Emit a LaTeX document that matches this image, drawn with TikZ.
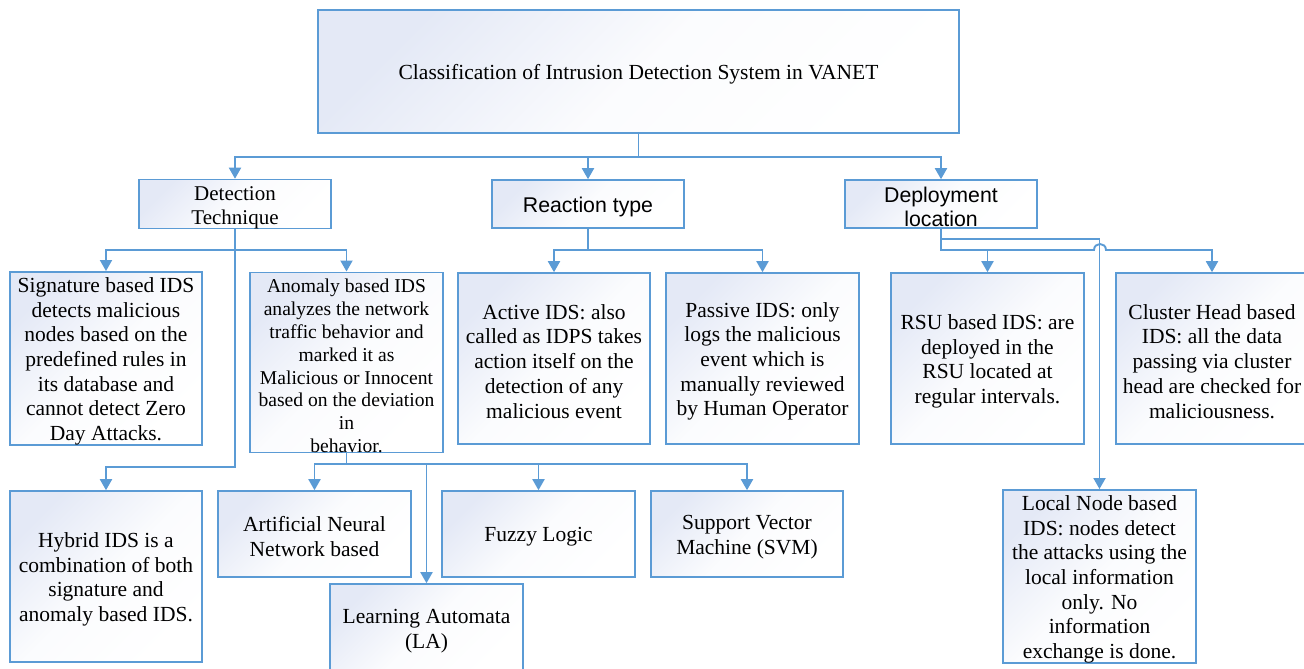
\documentclass[tikz,border=0pt]{standalone}
\usepackage{fontspec}
\setmainfont{Liberation Serif}
\newfontfamily\sansf{Liberation Sans}
\usetikzlibrary{arrows.meta}
\definecolor{lineblue}{RGB}{91,155,213}
\definecolor{boxc}{RGB}{228,233,246}
\newcommand\tstrut{\rule{0pt}{20.5pt}}
\begin{document}
\begin{tikzpicture}[x=1pt,y=-1pt,
  box/.style={draw=lineblue, line width=1.6pt, top color=boxc, bottom color=white, middle color=boxc!15!white,
    shading angle=45, inner sep=0pt, align=center, font=\fontsize{21.5}{24.7}\selectfont},
  conn/.style={draw=lineblue, line width=1.9pt, -{Triangle[length=11pt,width=12pt]}},
  ]
\useasboundingbox (0,0) rectangle (1304,669);
\fill[white] (0,0) rectangle (1304,669);

% level 0
\node[box, minimum width=641pt, minimum height=123pt] (main) at (638.5,71.5)
  {\tstrut Classification of Intrusion Detection System in VANET};

% level 1
\node[box, minimum width=192pt, minimum height=48pt, font=\fontsize{21}{24}\selectfont] (det) at (235,204)
  {\tstrut Detection\\Technique};
\node[box, minimum width=192pt, minimum height=48pt, font=\fontsize{21.3}{24}\selectfont\sansf] (react) at (588,204)
  {\tstrut Reaction type};
\node[box, minimum width=192pt, minimum height=48pt, font=\fontsize{21.3}{24}\selectfont\sansf] (deploy) at (941,204)
  {\tstrut Deployment\\location};

% level 2
\node[box, minimum width=192pt, minimum height=171pt] (sig) at (106,358.5)
  {\tstrut Signature based IDS\\detects malicious\\nodes based on the\\predefined rules in\\its database and\\cannot detect Zero\\Day Attacks.};
\node[box, minimum width=193pt, minimum height=179pt, font=\fontsize{19.6}{22.8}\selectfont] (anom) at (346.5,362.5)
  {\tstrut Anomaly based IDS\\analyzes the network\\traffic behavior and\\marked it as\\Malicious or Innocent\\based on the deviation\\in\\behavior.};
\node[box, minimum width=192pt, minimum height=171pt] (active) at (554,358.5)
  {\tstrut Active IDS: also\\called as IDPS takes\\action itself on the\\detection of any\\malicious event};
\node[box, minimum width=193pt, minimum height=171pt] (passive) at (762.5,358.5)
  {\tstrut Passive IDS: only\\logs the malicious\\event which is\\manually reviewed\\by Human Operator};
\node[box, minimum width=193pt, minimum height=171pt] (rsu) at (987.5,358.5)
  {\tstrut RSU based IDS: are\\deployed in the\\RSU located at\\regular intervals.};
\node[box, minimum width=192pt, minimum height=171pt] (cluster) at (1212,358.5)
  {\tstrut Cluster Head based\\IDS: all the data\\passing via cluster\\head are checked for\\maliciousness.};

% level 3
\node[box, minimum width=192pt, minimum height=171pt] (hybrid) at (106,576.5)
  {\tstrut Hybrid IDS is a\\combination of both\\signature and\\anomaly based IDS.};
\node[box, minimum width=193pt, minimum height=86pt] (ann) at (314.5,534)
  {\tstrut Artificial Neural\\Network based};
\node[box, minimum width=193pt, minimum height=88pt] (la) at (426.5,628)
  {\tstrut Learning Automata\\(LA)};
\node[box, minimum width=193pt, minimum height=86pt] (fuzzy) at (538.5,534)
  {\tstrut Fuzzy Logic};
\node[box, minimum width=192pt, minimum height=86pt] (svm) at (747,534)
  {\tstrut Support Vector\\Machine (SVM)};
\node[box, minimum width=193pt, minimum height=171pt] (local) at (1099.5,576.5)
  {\tstrut Local Node based\\IDS: nodes detect\\the attacks using the\\local information\\only. No\\information\\exchange is done.};

% connectors from main
\draw[conn] (main.south) -- (main.south |- 0,157) -| (det.north);
\draw[conn] (main.south |- 0,157) -| (react.north);
\draw[conn] (main.south |- 0,157) -| (deploy.north);

% detection technique
\draw[conn] (det.south) -- (det.south |- 0,250) -| (sig.north);
\draw[conn] (det.south |- 0,250) -| (anom.north);
\draw[conn] (det.south) -- (det.south |- 0,467) -| (hybrid.north);

% reaction type
\draw[conn] (react.south) -- (react.south |- 0,250) -| (active.north);
\draw[conn] (react.south |- 0,250) -| (passive.north);

% anomaly techniques
\draw[conn] (anom.south) -- (anom.south |- 0,464) -| (ann.north);
\draw[conn] (anom.south |- 0,464) -| (la.north);
\draw[conn] (anom.south |- 0,464) -| (fuzzy.north);
\draw[conn] (anom.south |- 0,464) -| (svm.north);

% deployment location
\draw[conn] (deploy.south) -- (deploy.south |- 0,250) -| (rsu.north);
\draw[conn] (deploy.south |- 0,250) -- (1094,250) .. controls (1094,242) and (1106,242) .. (1106,250)
  -- (cluster.north |- 0,250) -- (cluster.north);
\draw[conn] (deploy.south) -- (deploy.south |- 0,239) -| (local.north);
\end{tikzpicture}
\end{document}
